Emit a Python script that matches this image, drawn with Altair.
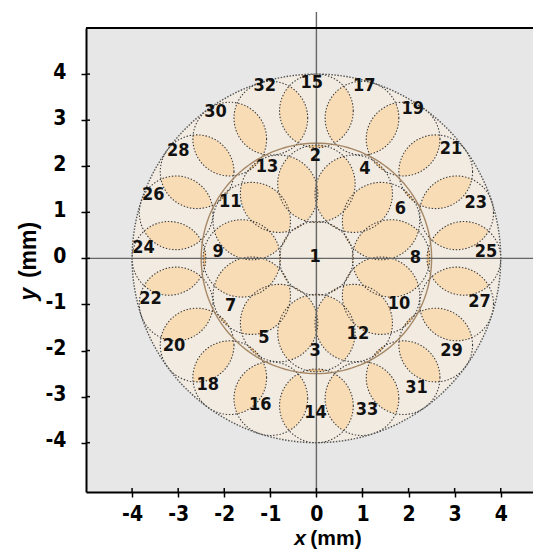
import math
import numpy as np
import pandas as pd
import altair as alt

# ---- geometry of the strands (mm) ----
center_r = 0.80
inner_R = 1.62
inner_r = 0.84
inner_angles = [90, 60, 30, 0, -30, -60, -90, -120, -150, 180, 150, 120]
inner_ids = [2, 4, 6, 8, 10, 12, 3, 5, 7, 9, 11, 13]
outer_R = 3.20
outer_r = 0.80
outer_angles = [90, 72, 54, 36, 18, 0, -18, -36, -54, -72,
                -90, -108, -126, -144, -162, 180, 162, 144, 126, 108]
outer_ids = [15, 17, 19, 21, 23, 25, 27, 29, 31, 33,
             14, 16, 18, 20, 22, 24, 26, 28, 30, 32]
boundary_R = 4.0
layer_ring_R = 2.5

# ---- wire number labels (mm) ----
label_txt = [str(i) for i in range(1, 34)]
label_x = [-0.03, -0.02, -0.03, 1.05, -1.14, 1.82, -1.86, 2.15, -2.13, 1.79,
           -1.87, 0.90, -1.07, -0.02, -0.10, -1.22, 1.04, -2.36, 2.09, -3.09,
           2.92, -3.60, 3.46, -3.75, 3.68, -3.54, 3.54, -3.00, 2.93, -2.19,
           2.17, -1.12, 1.10]
label_y = [0.04, 2.22, -2.0, 1.93, -1.73, 1.07, -1.03, 0.01, 0.14, -1.0,
           1.23, -1.65, 1.99, -3.35, 3.80, -3.19, 3.75, -2.74, 3.25, -1.91,
           2.38, -0.88, 1.21, 0.22, 0.14, 1.37, -0.95, 2.33, -2.02, 3.18,
           -2.82, 3.74, -3.29]

tick_vals = [-4, -3, -2, -1, 0, 1, 2, 3, 4]

W, H = 447, 464
xs = alt.Scale(domain=[-5.0, 4.70], nice=False, zero=False)
ys = alt.Scale(domain=[-5.07, 5.0], nice=False, zero=False)
FONT_NUM = "DejaVu Sans Condensed, Liberation Sans Narrow, sans-serif"
FONT_T = "Liberation Sans, Arial, sans-serif"

xaxis = alt.Axis(values=tick_vals, title=None, grid=False, domainColor="black",
                 domainWidth=2, tickColor="black", tickWidth=1.5, tickSize=5,
                 labelFont=FONT_NUM, labelFontSize=21, labelFontWeight="bold",
                 labelColor="black", labelPadding=6, labelExpr="'' + datum.value",
                 labelFlush=False, labelOverlap=False)
yaxis = alt.Axis(values=tick_vals, title=None, grid=False, domainColor="black",
                 domainWidth=2, tickColor="black", tickWidth=1.5, tickSize=5,
                 labelFont=FONT_NUM, labelFontSize=21, labelFontWeight="bold",
                 labelColor="black", labelPadding=15, labelExpr="'' + datum.value",
                 labelFlush=False, labelOverlap=False, labelOffset=-2)
X = alt.X("x:Q", scale=xs, axis=xaxis)
Y = alt.Y("y:Q", scale=ys, axis=yaxis)

# ---- build circles ----
circles = [(1, 0.0, 0.0, center_r, 0)]
for a, i in zip(inner_angles, inner_ids):
    t = math.radians(a)
    circles.append((i, inner_R * math.cos(t), inner_R * math.sin(t), inner_r, 1))
for a, i in zip(outer_angles, outer_ids):
    t = math.radians(a)
    circles.append((i, outer_R * math.cos(t), outer_R * math.sin(t), outer_r, 2))


def ring(cx, cy, r, n=96):
    th = np.linspace(0, 2 * np.pi, n, endpoint=False)
    return cx + r * np.cos(th), cy + r * np.sin(th)


rows = []
for cid, cx, cy, r, lay in circles:
    px, py = ring(cx, cy, r)
    for k, (a, b) in enumerate(zip(px, py)):
        rows.append({"x": a, "y": b, "i": k, "cid": cid})
circ_df = pd.DataFrame(rows)

lens_rows = []
lid = 0
for p in range(len(circles)):
    for q in range(p + 1, len(circles)):
        _, x1, y1, r1, l1 = circles[p]
        _, x2, y2, r2, l2 = circles[q]
        d = math.hypot(x2 - x1, y2 - y1)
        if d >= r1 + r2 or d <= abs(r1 - r2):
            continue
        a = (r1 * r1 - r2 * r2 + d * d) / (2 * d)
        h = math.sqrt(max(r1 * r1 - a * a, 0))
        phi = math.atan2(y2 - y1, x2 - x1)
        a1 = math.atan2(h, a)
        a2 = math.atan2(h, d - a)
        t1 = np.linspace(phi - a1, phi + a1, 30)
        t2 = np.linspace(phi + math.pi - a2, phi + math.pi + a2, 30)
        xs_ = np.concatenate([x1 + r1 * np.cos(t1), x2 + r2 * np.cos(t2)])
        ys_ = np.concatenate([y1 + r1 * np.sin(t1), y2 + r2 * np.sin(t2)])
        kind = "same" if l1 == l2 else "cross"
        for k, (u, v) in enumerate(zip(xs_, ys_)):
            lens_rows.append({"x": u, "y": v, "i": k, "lid": lid, "kind": kind})
        lid += 1
lens_df = pd.DataFrame(lens_rows)

bx, by = ring(0, 0, boundary_R, 180)
disk_df = pd.DataFrame({"x": bx, "y": by, "i": range(len(bx))})
rx, ry = ring(0, 0, layer_ring_R, 160)
ring_df = pd.DataFrame({"x": rx, "y": ry, "i": range(len(rx))})

lab_df = pd.DataFrame({"x": label_x, "y": label_y, "t": label_txt})

disk = alt.Chart(disk_df).mark_line(
    fill="#F1EBE2", strokeOpacity=0, interpolate="linear-closed"
).encode(x=X, y=Y, order="i:Q")

lens_same = alt.Chart(lens_df[lens_df.kind == "same"]).mark_line(
    fill="#F8DCB6", strokeOpacity=0, interpolate="linear-closed"
).encode(x=X, y=Y, detail="lid:N", order="i:Q")

lens_cross = alt.Chart(lens_df[lens_df.kind == "cross"]).mark_line(
    fill="#EDBF85", strokeOpacity=0, interpolate="linear-closed"
).encode(x=X, y=Y, detail="lid:N", order="i:Q")

outlines = alt.Chart(circ_df).mark_line(
    color="#3c3c3c", strokeWidth=1.1, strokeDash=[1.4, 1.8], interpolate="linear-closed"
).encode(x=X, y=Y, detail="cid:N", order="i:Q")

layer_ring = alt.Chart(ring_df).mark_line(
    color="#9a7750", strokeWidth=1.4, opacity=0.85, interpolate="linear-closed"
).encode(x=X, y=Y, order="i:Q")

boundary = alt.Chart(disk_df).mark_line(
    color="#555555", strokeWidth=1.4, strokeDash=[1.5, 1.5], interpolate="linear-closed"
).encode(x=X, y=Y, order="i:Q")

vrule = alt.Chart(pd.DataFrame({"x": [0]})).mark_rule(
    color="#666666", strokeWidth=1.4
).encode(x=X, y=alt.value(-16), y2=alt.value(H))

hrule = alt.Chart(pd.DataFrame({"y": [0]})).mark_rule(
    color="#666666", strokeWidth=1.4
).encode(y=Y, x=alt.value(0), x2=alt.value(W))

top_frame = alt.Chart(pd.DataFrame({"y": [0]})).mark_rule(
    color="black", strokeWidth=2
).encode(y=alt.value(0), x=alt.value(0), x2=alt.value(W))

xin = alt.Chart(pd.DataFrame({"x": tick_vals})).mark_rule(
    color="black", strokeWidth=1.5
).encode(x=X, y=alt.value(H), y2=alt.value(H - 4))

yin = alt.Chart(pd.DataFrame({"y": tick_vals})).mark_rule(
    color="black", strokeWidth=1.5
).encode(y=Y, x=alt.value(0), x2=alt.value(4))

labels = alt.Chart(lab_df).mark_text(
    font=FONT_NUM, fontSize=18, fontWeight="bold", color="#111111",
    align="center", baseline="middle"
).encode(x=X, y=Y, text="t:N")

xt1 = alt.Chart(pd.DataFrame({"t": ["x"]})).mark_text(
    font=FONT_T, fontSize=21, fontWeight="bold", fontStyle="italic",
    color="black", align="center", baseline="middle"
).encode(x=alt.value(214), y=alt.value(511), text="t:N")
xt2 = alt.Chart(pd.DataFrame({"t": ["(mm)"]})).mark_text(
    font=FONT_T, fontSize=21, fontWeight="bold", color="black",
    align="center", baseline="middle"
).encode(x=alt.value(250), y=alt.value(511), text="t:N")
yt1 = alt.Chart(pd.DataFrame({"t": ["y"]})).mark_text(
    font=FONT_T, fontSize=23, fontWeight="bold", fontStyle="italic",
    color="black", align="center", baseline="middle", angle=270
).encode(x=alt.value(-57), y=alt.value(266), text="t:N")
yt2 = alt.Chart(pd.DataFrame({"t": ["(mm)"]})).mark_text(
    font=FONT_T, fontSize=23, fontWeight="bold", color="black",
    align="center", baseline="middle", angle=270
).encode(x=alt.value(-57), y=alt.value(222), text="t:N")

chart = alt.layer(
    disk, lens_same, lens_cross, outlines, layer_ring, boundary,
    hrule, vrule, top_frame, xin, yin, labels, xt1, xt2, yt1, yt2
).properties(
    width=W, height=H,
    padding={"left": 78, "top": 20, "right": 0, "bottom": 59},
    autosize=alt.AutoSizeParams(type="none"),
    background="white",
).configure_view(fill="#E7E7E7", stroke=None)

chart.save("out.html", embed_options={"renderer": "svg", "actions": False})
